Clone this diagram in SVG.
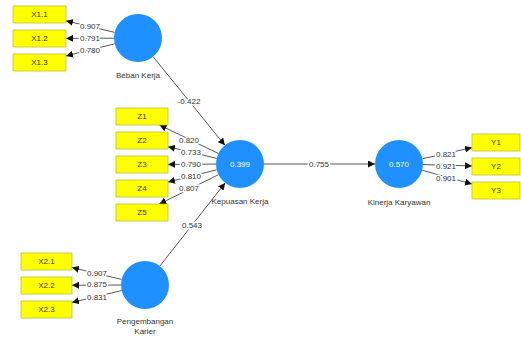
<svg xmlns="http://www.w3.org/2000/svg" width="521" height="339" viewBox="0 0 521 339">
<style>
text{font-family:"Liberation Sans",Arial,sans-serif;font-size:8px;text-anchor:middle;dominant-baseline:central}
.lat{fill:#1e90ff}
.ind{fill:#ffff00;stroke:#bdbd3a;stroke-width:0.8}
.cap{fill:#333}
.val{fill:#fff}
.itxt{fill:#333}
.ln{stroke:#444;stroke-width:0.9;fill:none;marker-end:url(#ah)}
.lbl{fill:#333;stroke:#fff;stroke-width:3;paint-order:stroke}
</style>
<defs>
<marker id="ah" viewBox="0 0 10 10" refX="10" refY="5" markerWidth="7" markerHeight="7" markerUnits="userSpaceOnUse" orient="auto">
<path d="M0,0 L10,5 L0,10 z" fill="#111"/>
</marker>
</defs>
<rect width="521" height="339" fill="#fff"/>
<g id="connectors">
<line class="ln" x1="114.7" y1="32.4" x2="66" y2="20.8"/>
<line class="ln" x1="114" y1="38.2" x2="66" y2="38.4"/>
<line class="ln" x1="114.7" y1="43.8" x2="66" y2="55.9"/>
<line class="ln" x1="218.4" y1="153.5" x2="159.5" y2="125"/>
<line class="ln" x1="216.7" y1="158.4" x2="168" y2="146.7"/>
<line class="ln" x1="216" y1="164.1" x2="168" y2="164.4"/>
<line class="ln" x1="216.7" y1="169.8" x2="168" y2="182"/>
<line class="ln" x1="218.5" y1="174.7" x2="159.3" y2="204"/>
<line class="ln" x1="121.6" y1="279.4" x2="72" y2="267.6"/>
<line class="ln" x1="121" y1="285" x2="72" y2="285.3"/>
<line class="ln" x1="121.6" y1="290.6" x2="72" y2="302.4"/>
<line class="ln" x1="422.4" y1="158.8" x2="472" y2="147.6"/>
<line class="ln" x1="423" y1="164.6" x2="472" y2="165.9"/>
<line class="ln" x1="422.2" y1="170.3" x2="472" y2="184"/>
<line class="ln" x1="153.1" y1="56.7" x2="224.9" y2="145.3"/>
<line class="ln" x1="159.8" y1="266.1" x2="225.2" y2="182.9"/>
<line class="ln" x1="264" y1="164" x2="375" y2="164"/>
<text class="lbl" x="90" y="26">0.907</text>
<text class="lbl" x="90" y="38">0.791</text>
<text class="lbl" x="90" y="50">0.780</text>
<text class="lbl" x="189" y="140">0.820</text>
<text class="lbl" x="191" y="152">0.733</text>
<text class="lbl" x="191" y="164">0.790</text>
<text class="lbl" x="191" y="176">0.810</text>
<text class="lbl" x="189" y="188">0.807</text>
<text class="lbl" x="97" y="273">0.907</text>
<text class="lbl" x="97" y="284">0.875</text>
<text class="lbl" x="97" y="297">0.831</text>
<text class="lbl" x="446" y="154">0.821</text>
<text class="lbl" x="446" y="166">0.921</text>
<text class="lbl" x="446" y="178">0.901</text>
<text class="lbl" x="189" y="101">-0.422</text>
<text class="lbl" x="192" y="225">0.543</text>
<text class="lbl" x="319" y="164">0.755</text>
</g>
<g id="beban-kerja">
<circle class="lat" cx="138" cy="38" r="24"/>
<text class="cap" x="138" y="75">Beban Kerja</text>
</g>
<g id="kepuasan-kerja">
<circle class="lat" cx="240" cy="164" r="24"/>
<text class="val" x="240" y="164">0.399</text>
<text class="cap" x="240" y="201">Kepuasan Kerja</text>
</g>
<g id="pengembangan-karier">
<circle class="lat" cx="145" cy="285" r="24"/>
<text class="cap" x="145" y="321">Pengembangan</text>
<text class="cap" x="145" y="331">Karier</text>
</g>
<g id="kinerja-karyawan">
<circle class="lat" cx="399" cy="164" r="24"/>
<text class="val" x="399" y="164">0.570</text>
<text class="cap" x="399" y="202">Kinerja Karyawan</text>
</g>
<g id="X1.1"><rect class="ind" x="13" y="6" width="53" height="17"/><text class="itxt" x="39.5" y="14.5">X1.1</text></g>
<g id="X1.2"><rect class="ind" x="13" y="30" width="53" height="17"/><text class="itxt" x="39.5" y="38.5">X1.2</text></g>
<g id="X1.3"><rect class="ind" x="13" y="54" width="53" height="17"/><text class="itxt" x="39.5" y="62.5">X1.3</text></g>
<g id="Z1"><rect class="ind" x="116" y="108" width="52" height="17"/><text class="itxt" x="142" y="116.5">Z1</text></g>
<g id="Z2"><rect class="ind" x="116" y="132" width="52" height="17"/><text class="itxt" x="142" y="140.5">Z2</text></g>
<g id="Z3"><rect class="ind" x="116" y="156" width="52" height="17"/><text class="itxt" x="142" y="164.5">Z3</text></g>
<g id="Z4"><rect class="ind" x="116" y="180" width="52" height="17"/><text class="itxt" x="142" y="188.5">Z4</text></g>
<g id="Z5"><rect class="ind" x="116" y="204" width="52" height="17"/><text class="itxt" x="142" y="212.5">Z5</text></g>
<g id="X2.1"><rect class="ind" x="21" y="253" width="51" height="17"/><text class="itxt" x="46.5" y="261.5">X2.1</text></g>
<g id="X2.2"><rect class="ind" x="21" y="277" width="51" height="17"/><text class="itxt" x="46.5" y="285.5">X2.2</text></g>
<g id="X2.3"><rect class="ind" x="21" y="301" width="51" height="17"/><text class="itxt" x="46.5" y="309.5">X2.3</text></g>
<g id="Y1"><rect class="ind" x="472" y="134" width="48" height="17"/><text class="itxt" x="496" y="142.5">Y1</text></g>
<g id="Y2"><rect class="ind" x="472" y="158" width="48" height="17"/><text class="itxt" x="496" y="166.5">Y2</text></g>
<g id="Y3"><rect class="ind" x="472" y="182" width="48" height="17"/><text class="itxt" x="496" y="190.5">Y3</text></g>
</svg>
